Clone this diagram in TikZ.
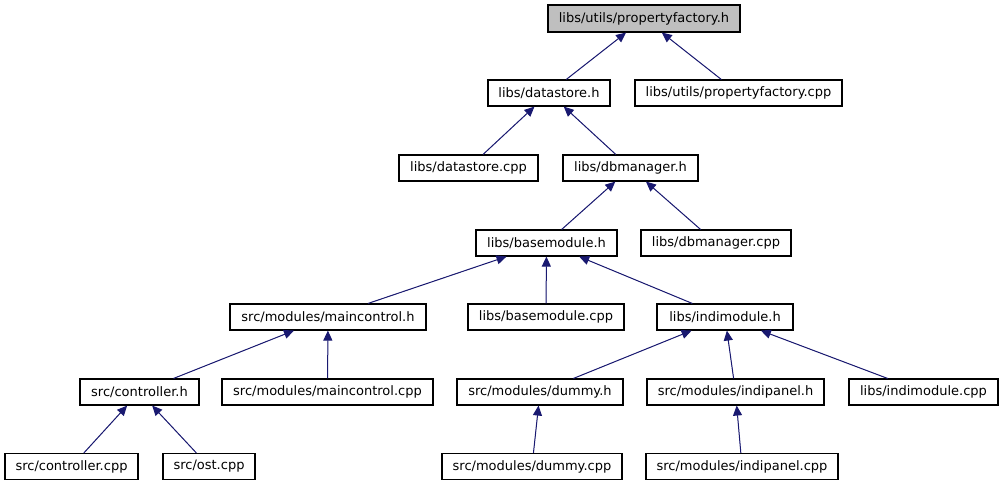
\documentclass[tikz,border=0pt]{standalone}
\usepackage{fontspec}
\setmainfont{DejaVu Sans}
\usetikzlibrary{arrows.meta}
\definecolor{edgeblue}{HTML}{191970}
\begin{document}
\begin{tikzpicture}[x=1pt, y=-1pt,
  every node/.style={draw, line width=1.1pt, inner sep=0pt, minimum height=26pt, font=\fontsize{13}{15}\selectfont},
  dep/.style={draw=edgeblue, line width=1pt, -{Triangle[length=10pt, width=9pt]}, fill=edgeblue}]
\useasboundingbox (0,0) rectangle (1004,485);
\node (pfh) [fill=black!25, minimum width=192pt, minimum height=27pt] at (644,18.5) {libs/utils/propertyfactory.h};
\node (dsh) [minimum width=122pt] at (549,93) {libs/datastore.h};
\node (pfcpp) [minimum width=207pt] at (738.5,93) {libs/utils/propertyfactory.cpp};
\node (dscpp) [minimum width=139pt] at (468.5,168) {libs/datastore.cpp};
\node (dbmh) [minimum width=135pt] at (630.5,168) {libs/dbmanager.h};
\node (bmh) [minimum width=141pt] at (546.5,243) {libs/basemodule.h};
\node (dbmcpp) [minimum width=150pt] at (716,243) {libs/dbmanager.cpp};
\node (mch) [minimum width=196pt] at (328,317) {src/modules/maincontrol.h};
\node (bmcpp) [minimum width=156pt] at (546,317) {libs/basemodule.cpp};
\node (imh) [minimum width=136pt] at (725,317) {libs/indimodule.h};
\node (ctrlh) [minimum width=119pt] at (139.5,392) {src/controller.h};
\node (mccpp) [minimum width=211pt] at (327.5,392) {src/modules/maincontrol.cpp};
\node (dummyh) [minimum width=166pt] at (540,392) {src/modules/dummy.h};
\node (iph) [minimum width=177pt] at (735.5,392) {src/modules/indipanel.h};
\node (imcpp) [minimum width=149pt] at (923.5,392) {libs/indimodule.cpp};
\node (ctrlcpp) [minimum width=133pt] at (71.5,466.5) {src/controller.cpp};
\node (ostcpp) [minimum width=92pt] at (209,466.5) {src/ost.cpp};
\node (dummycpp) [minimum width=180pt] at (532,466.5) {src/modules/dummy.cpp};
\node (ipcpp) [minimum width=192pt] at (742,466.5) {src/modules/indipanel.cpp};
\draw[dep] (dsh) -- (pfh);
\draw[dep] (pfcpp) -- (pfh);
\draw[dep] (dscpp) -- (dsh);
\draw[dep] (dbmh) -- (dsh);
\draw[dep] (bmh) -- (dbmh);
\draw[dep] (dbmcpp) -- (dbmh);
\draw[dep] (mch) -- (bmh);
\draw[dep] (bmcpp) -- (bmh);
\draw[dep] (imh) -- (bmh);
\draw[dep] (ctrlh) -- (mch);
\draw[dep] (mccpp) -- (mch);
\draw[dep] (dummyh) -- (imh);
\draw[dep] (iph) -- (imh);
\draw[dep] (imcpp) -- (imh);
\draw[dep] (ctrlcpp) -- (ctrlh);
\draw[dep] (ostcpp) -- (ctrlh);
\draw[dep] (dummycpp) -- (dummyh);
\draw[dep] (ipcpp) -- (iph);
\end{tikzpicture}
\end{document}
